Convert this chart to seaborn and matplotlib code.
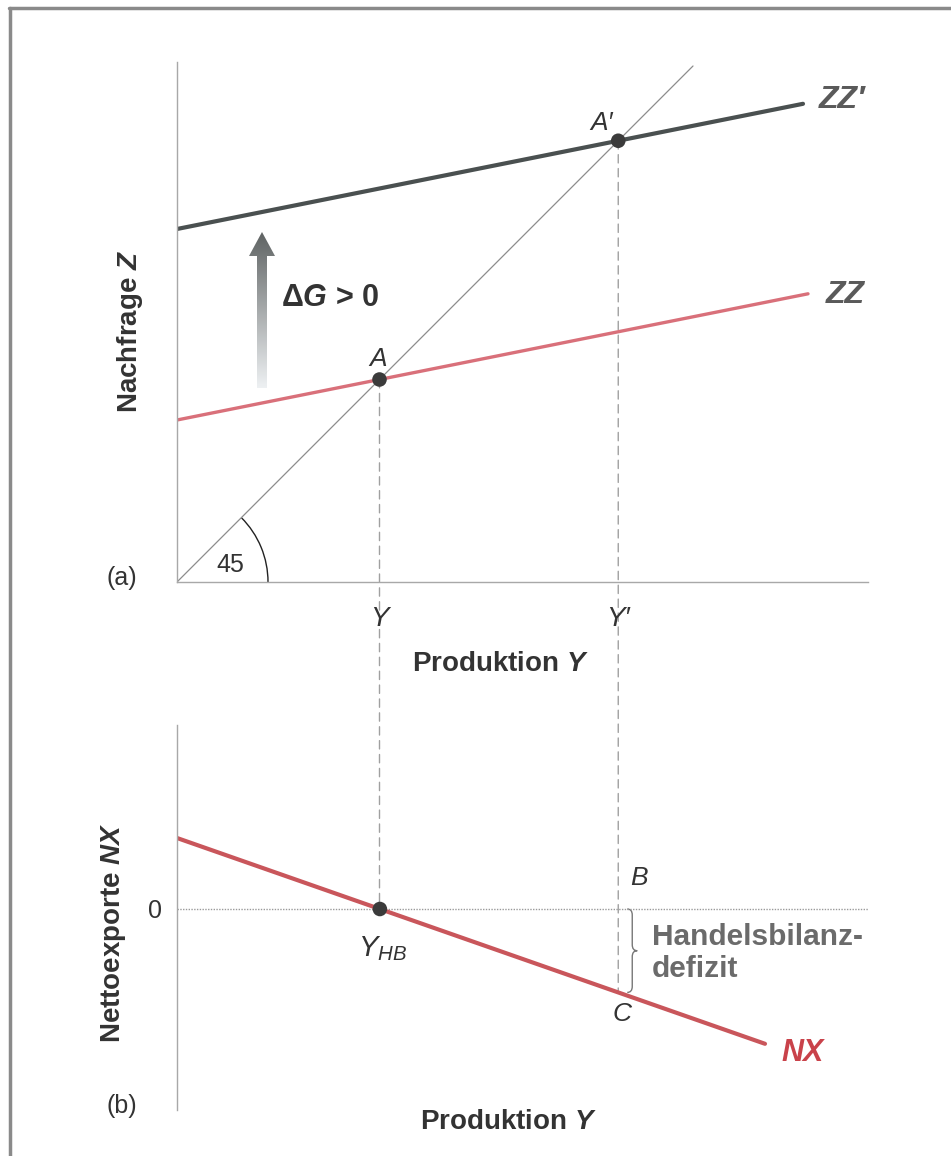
import numpy as np
import matplotlib
matplotlib.use("Agg")
import matplotlib.pyplot as plt
import seaborn as sns
from matplotlib.patches import Arc, Polygon, ConnectionPatch, PathPatch
from matplotlib.path import Path
from matplotlib.lines import Line2D

# --- data (model units, same scale on both axes so the 45 line is y = x) ---
y_range = [0, 691]
z_range = [0, 520]
nx_range = [-201, 184]

zz_intercept = 162      # ZZ: Z = c0 + c1 * Y
zz_prime_intercept = 353  # ZZ' after Delta G > 0
zz_slope = 0.2
zz_end = 631
zz_prime_end = 626
diag_end = 516

nx_intercept = 71       # NX = n0 + n1 * Y
nx_slope = -0.35
nx_end = 588

# equilibria (Z = Y)
y_eq = zz_intercept / (1 - zz_slope)
y_eq2 = zz_prime_intercept / (1 - zz_slope)
y_hb = -nx_intercept / nx_slope
nx_at_y2 = nx_intercept + nx_slope * y_eq2

sns.set_style("white")
plt.rcParams["font.family"] = ["Liberation Sans", "DejaVu Sans"]
plt.rcParams["mathtext.fontset"] = "custom"
plt.rcParams["mathtext.rm"] = "Liberation Sans"
plt.rcParams["mathtext.it"] = "Liberation Sans:italic"
plt.rcParams["mathtext.bf"] = "Liberation Sans:bold:italic"

W, H = 951, 1156
fig = plt.figure(figsize=(W / 100, H / 100), dpi=100)

def fx(px):
    return px / W

def fy(py):
    return 1 - py / H

txt = "#333333"
grey_spine = "#a8a8a8"
dash_col = "#a0a0a0"

# ---------------- (a) top panel ----------------
ax1 = fig.add_axes([fx(177), fy(582), fx(868) - fx(177), fy(62) - fy(582)])
ax1.set_xlim(y_range)
ax1.set_ylim(z_range)
ax1.patch.set_alpha(0)

xs = np.array([0, diag_end])
sns.lineplot(x=xs, y=xs, ax=ax1, color="#8c8c8c", linewidth=0.9)
xs = np.array([0, zz_end])
sns.lineplot(x=xs, y=zz_intercept + zz_slope * xs, ax=ax1, color="#d9707a", linewidth=2.4)
xs = np.array([0, zz_prime_end])
sns.lineplot(x=xs, y=zz_prime_intercept + zz_slope * xs, ax=ax1, color="#4a5050", linewidth=3.0)
sns.scatterplot(x=[y_eq, y_eq2], y=[y_eq, y_eq2], ax=ax1, s=110, color="#3b3b3b",
                edgecolor="none", zorder=5)

# 45 degree arc
ax1.add_patch(Arc((0, 0), 182, 182, theta1=0, theta2=45, color="#222222", lw=1.0))
ax1.text(53, 17, "45", fontsize=18, color=txt, ha="center", va="center")

# gradient arrow Delta G
ax_x, ax_bot, ax_top = 85, 194, 350
shaft, head, head_len = 5, 13, 24
arrow_pts = [(ax_x - shaft, ax_bot), (ax_x + shaft, ax_bot), (ax_x + shaft, ax_top - head_len),
             (ax_x + head, ax_top - head_len), (ax_x, ax_top), (ax_x - head, ax_top - head_len),
             (ax_x - shaft, ax_top - head_len)]
arrow = Polygon(arrow_pts, closed=True, facecolor="none", edgecolor="none")
ax1.add_patch(arrow)
grad = np.linspace(0, 1, 256).reshape(-1, 1)
cmap = matplotlib.colors.LinearSegmentedColormap.from_list("g", ["#eef1f3", "#5f6363"])
im = ax1.imshow(grad, extent=[ax_x - head, ax_x + head, ax_bot, ax_top], origin="lower",
                cmap=cmap, aspect="auto", zorder=3)
im.set_clip_path(arrow)

ax1.text(104, 284, "Δ$\\mathbf{G}$ > 0", fontsize=22, fontweight="bold", color=txt,
         ha="left", va="center")
ax1.text(y_eq - 1, y_eq + 20, "A", fontsize=19, fontstyle="italic", color=txt,
         ha="center", va="center")
ax1.text(y_eq2 - 17, y_eq2 + 18, "A′", fontsize=19, fontstyle="italic", color=txt,
         ha="center", va="center")
ax1.text(665, 482, "ZZ′", fontsize=23, fontweight="bold", fontstyle="italic", color="#5a5a5a",
         ha="center", va="center")
ax1.text(668, 287, "ZZ", fontsize=23, fontweight="bold", fontstyle="italic", color="#5a5a5a",
         ha="center", va="center")

ax1.set_xticks([y_eq, y_eq2])
ax1.set_xticklabels(["Y", "Y′"], fontstyle="italic", fontsize=20, color=txt)
ax1.tick_params(axis="x", length=0, pad=17)
ax1.set_yticks([])
for s in ["top", "right"]:
    ax1.spines[s].set_visible(False)
for s in ["left", "bottom"]:
    ax1.spines[s].set_color(grey_spine)
    ax1.spines[s].set_linewidth(1.0)

# ---------------- (b) bottom panel ----------------
ax2 = fig.add_axes([fx(177), fy(1110), fx(868) - fx(177), fy(725) - fy(1110)])
ax2.set_xlim(y_range)
ax2.set_ylim(nx_range)
ax2.patch.set_alpha(0)

ax2.axhline(0, color="#9a9a9a", linewidth=1.0, linestyle=(0, (1, 1)))
xs = np.array([0, nx_end])
sns.lineplot(x=xs, y=nx_intercept + nx_slope * xs, ax=ax2, color="#c9565b", linewidth=3.0)
sns.scatterplot(x=[y_hb], y=[0], ax=ax2, s=110, color="#3b3b3b", edgecolor="none", zorder=5)

# curly brace for the trade deficit
bx, bw = y_eq2 + 9, 10
yt, yb = 0, nx_at_y2
ym = (yt + yb) / 2
r = 6
verts = [(bx, yt), (bx + bw / 2, yt), (bx + bw / 2, yt - r),
         (bx + bw / 2, ym + r), (bx + bw / 2, ym), (bx + bw, ym),
         (bx + bw / 2, ym), (bx + bw / 2, ym - r),
         (bx + bw / 2, yb + r), (bx + bw / 2, yb), (bx, yb)]
codes = [Path.MOVETO, Path.CURVE3, Path.CURVE3, Path.LINETO, Path.CURVE3, Path.CURVE3,
         Path.CURVE3, Path.CURVE3, Path.LINETO, Path.CURVE3, Path.CURVE3]
ax2.add_patch(PathPatch(Path(verts, codes), facecolor="none", edgecolor="#777777", lw=1.0))

ax2.text(y_eq2 + 21, 31, "B", fontsize=19, fontstyle="italic", color=txt, ha="center", va="center")
ax2.text(y_eq2 + 4, nx_at_y2 - 22, "C", fontsize=19, fontstyle="italic", color=txt,
         ha="center", va="center")
ax2.text(y_hb + 3, -40, "$Y_{HB}$", fontsize=21, color=txt, ha="center", va="center")
ax2.text(475, -44, "Handelsbilanz-\ndefizit", fontsize=21.5, fontweight="bold", color="#6b6b6b",
         ha="left", va="center", linespacing=1.15)
ax2.text(626, -144, "NX", fontsize=22, fontweight="bold", fontstyle="italic", color="#c9424a",
         ha="center", va="center")

ax2.set_xticks([])
ax2.set_yticks([0])
ax2.set_yticklabels(["0"], fontsize=18, color=txt)
ax2.tick_params(axis="y", length=0, pad=11)
for s in ["top", "right", "bottom"]:
    ax2.spines[s].set_visible(False)
ax2.spines["left"].set_color(grey_spine)
ax2.spines["left"].set_linewidth(1.0)

# dashed guides running from panel (a) into panel (b)
for xa, za, xb, nb in [(y_eq, y_eq, y_eq, 0), (y_eq2, y_eq2, y_eq2, nx_at_y2)]:
    con = ConnectionPatch(xyA=(xa, za), coordsA=ax1.transData, xyB=(xb, nb), coordsB=ax2.transData,
                          color=dash_col, lw=1.0, linestyle=(0, (6, 4)), zorder=-1)
    fig.add_artist(con)

# axis titles and panel tags
fig.text(fx(130), fy(331), "Nachfrage $\\mathbf{Z}$", rotation=90, fontsize=20, fontweight="bold",
         color=txt, ha="center", va="center")
fig.text(fx(113), fy(933), "Nettoexporte $\\mathbf{NX}$", rotation=90, fontsize=20,
         fontweight="bold", color=txt, ha="center", va="center")
fig.text(fx(500), fy(664), "Produktion $\\mathbf{Y}$", fontsize=20, fontweight="bold", color=txt,
         ha="center", va="center")
fig.text(fx(508), fy(1122), "Produktion $\\mathbf{Y}$", fontsize=20, fontweight="bold", color=txt,
         ha="center", va="center")
fig.text(fx(122), fy(578), "(a)", fontsize=18, color=txt, ha="center", va="center")
fig.text(fx(122), fy(1106), "(b)", fontsize=18, color=txt, ha="center", va="center")

# scan frame (top and left edges)
fig.add_artist(Line2D([fx(9), 1], [fy(8), fy(8)], color="#8a8a8a", lw=2.5))
fig.add_artist(Line2D([fx(10), fx(10)], [0, fy(8)], color="#8a8a8a", lw=2.5))

fig.savefig("out.png", dpi=100)
